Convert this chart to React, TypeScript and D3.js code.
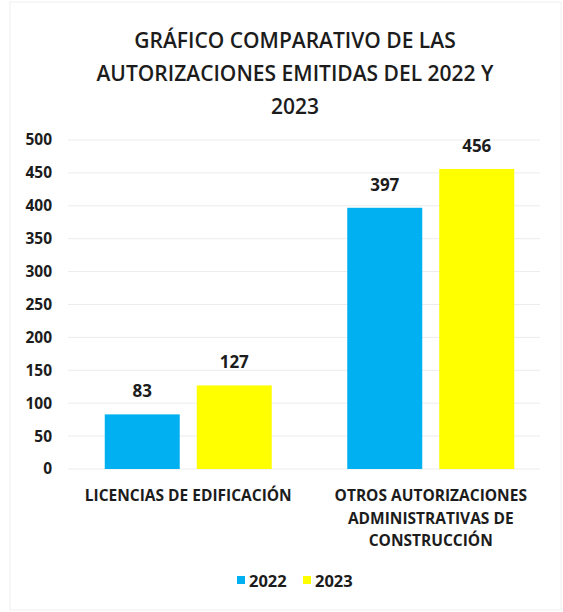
import React, { useEffect } from "react";
import * as d3 from "d3";

const categories = ["LICENCIAS DE EDIFICACIÓN", "OTROS AUTORIZACIONES ADMINISTRATIVAS DE CONSTRUCCIÓN"];
const categoryLines = [["LICENCIAS DE EDIFICACIÓN"], ["OTROS AUTORIZACIONES", "ADMINISTRATIVAS DE", "CONSTRUCCIÓN"]];
const seriesNames = ["2022", "2023"];
const values2022 = [83, 397];
const values2023 = [127, 456];
const yTicks = [0, 50, 100, 150, 200, 250, 300, 350, 400, 450, 500];
const titleLines = ["GRÁFICO COMPARATIVO DE LAS", "AUTORIZACIONES EMITIDAS DEL 2022 Y", "2023"];
const colors = ["#00B0F0", "#FFFF00"];

const W = 563;
const H = 612;
const FONT = "'Open Sans', 'Noto Sans', sans-serif";
const TXT = "#1c1c1c";

export default function App() {
  useEffect(() => {
    document.body.style.margin = "0";
  }, []);

  const y = d3.scaleLinear().domain([0, 500]).range([469, 140]);
  const x0 = d3.scaleBand<string>().domain(categories).range([67, 552]);
  const groupW = 167;
  const x1 = d3.scaleBand<string>().domain(seriesNames).range([0, groupW]).paddingInner(0.185);
  const series = [values2022, values2023];

  return (
    <svg width={W} height={H} style={{ display: "block", background: "#fff" }} fontFamily={FONT}>
      <rect x={10} y={2} width={W - 12} height={H - 4} fill="none" stroke="#f0f0f0" strokeWidth={1} />
      {titleLines.map((t, i) => (
        <text key={i} x={295} y={48 + i * 33} textAnchor="middle" fontSize={21} fontWeight={600} fill={TXT}>
          {t}
        </text>
      ))}
      {yTicks.map((t) => (
        <g key={t}>
          <line x1={68} x2={540} y1={y(t)} y2={y(t)} stroke="#ececec" strokeWidth={1} />
          <text x={52} y={y(t)} dy="0.35em" textAnchor="end" fontSize={15.5} fontWeight={700} fill={TXT}>
            {t}
          </text>
        </g>
      ))}
      {categories.map((c, ci) => {
        const cx = (x0(c) as number) + x0.bandwidth() / 2;
        const gx = cx - groupW / 2;
        return (
          <g key={c}>
            {seriesNames.map((s, si) => {
              const v = series[si][ci];
              const bx = gx + (x1(s) as number);
              return (
                <g key={s}>
                  <rect x={bx} y={y(v)} width={x1.bandwidth()} height={y(0) - y(v)} fill={colors[si]} />
                  <text x={bx + x1.bandwidth() / 2} y={y(v) - 17} textAnchor="middle" fontSize={17} fontWeight={700} fill={TXT}>
                    {v}
                  </text>
                </g>
              );
            })}
            {categoryLines[ci].map((line, li) => (
              <text key={li} x={cx} y={501 + li * 22.5} textAnchor="middle" fontSize={15.5} fontWeight={700} fill={TXT}>
                {line}
              </text>
            ))}
          </g>
        );
      })}
      {seriesNames.map((s, i) => (
        <g key={s} transform={`translate(${237 + i * 66},0)`}>
          <rect x={0} y={576} width={8} height={8} fill={colors[i]} />
          <text x={12} y={587} fontSize={16.5} fontWeight={700} fill={TXT}>
            {s}
          </text>
        </g>
      ))}
    </svg>
  );
}
